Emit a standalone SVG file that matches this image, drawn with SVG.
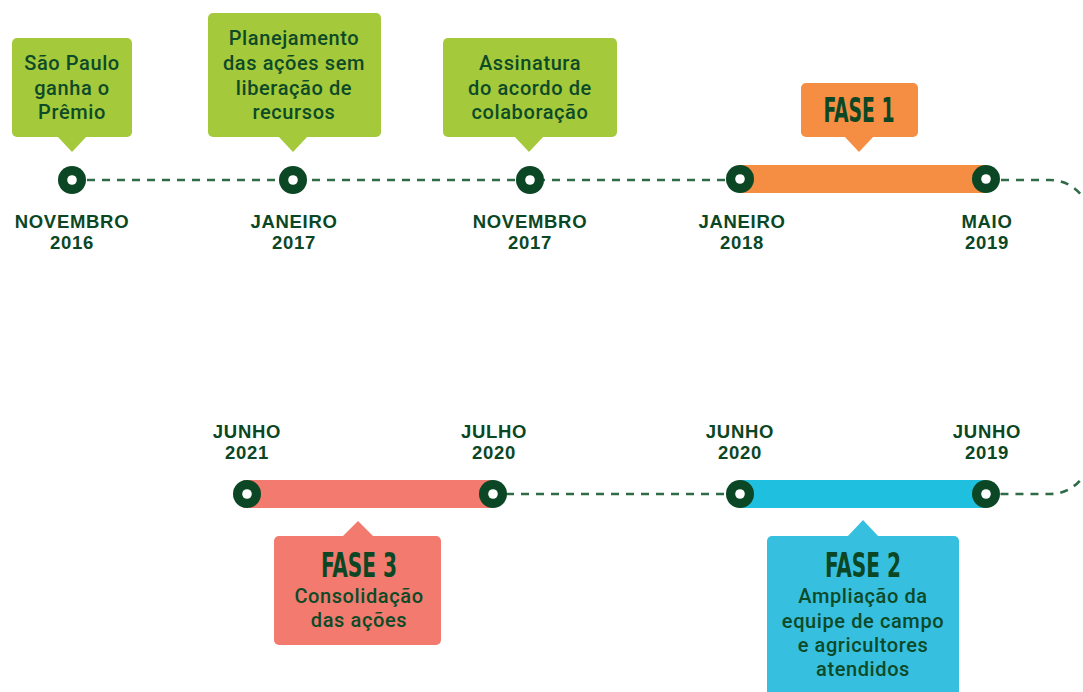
<svg xmlns="http://www.w3.org/2000/svg" width="1083" height="692" viewBox="0 0 1083 692">
<defs>
<style>
.dash{fill:none;stroke:#2f6b47;stroke-width:2.6;stroke-dasharray:8 7}
.ring{fill:#0b4724}
.hole{fill:#ffffff}
.date{font-family:"Liberation Sans",Arial,sans-serif;font-weight:700;font-size:18.5px;letter-spacing:0.7px;fill:#0b4724;text-anchor:middle}
.box{font-family:Roboto,"Open Sans",sans-serif;font-weight:500;font-size:20px;letter-spacing:0.6px;fill:#0d4a27;text-anchor:middle}
.fase{font-family:"Liberation Sans Narrow","DejaVu Sans Condensed","Liberation Sans",sans-serif;font-weight:700;font-size:33px;fill:#0b4724;text-anchor:middle}
.green{fill:#a4c93b}
</style>
</defs>
<rect width="1083" height="692" fill="#ffffff"/>
<g id="connectors">
<path class="dash" d="M72,180 H739"/>
<path class="dash" d="M986,180 H1050 A40,40 0 0 1 1090,220 V454 A40,40 0 0 1 1050,494 H986"/>
<path class="dash" d="M739,494 H493"/>
</g>
<g id="fase1">
<rect x="739" y="165" width="247" height="28" fill="#f58d43"/>
<rect x="801" y="83" width="117" height="54" rx="5" fill="#f58d43"/>
<path d="M844,136 L859,152 L874,136 Z" fill="#f58d43"/>
<text class="fase" x="859" y="122" textLength="71" lengthAdjust="spacingAndGlyphs">FASE 1</text>
</g>
<g id="fase2">
<rect x="739" y="480" width="247" height="28" fill="#1fc0df"/>
<rect x="767" y="536" width="192" height="170" rx="5" fill="#37bfe0"/>
<path d="M847,537 L863,520 L879,537 Z" fill="#37bfe0"/>
<text class="fase" x="863" y="577" textLength="76" lengthAdjust="spacingAndGlyphs">FASE 2</text>
<text class="box" x="863" y="603"><tspan x="863" y="603">Ampliação da</tspan><tspan x="863" y="628">equipe de campo</tspan><tspan x="863" y="652">e agricultores</tspan><tspan x="863" y="676">atendidos</tspan></text>
</g>
<g id="fase3">
<rect x="243" y="480" width="250" height="28" fill="#f27a6f"/>
<rect x="274" y="536" width="167" height="109" rx="5" fill="#f27a6f"/>
<path d="M342,537 L358,521 L374,537 Z" fill="#f27a6f"/>
<text class="fase" x="359" y="577" textLength="76" lengthAdjust="spacingAndGlyphs">FASE 3</text>
<text class="box" x="359" y="603"><tspan x="359" y="603">Consolidação</tspan><tspan x="359" y="627">das ações</tspan></text>
</g>
<g id="m-nov2016">
<rect class="green" x="12" y="38" width="120" height="99" rx="5"/>
<path class="green" d="M57,136 L72,152 L87,136 Z"/>
<text class="box" x="72" y="70"><tspan x="72" y="70">São Paulo</tspan><tspan x="72" y="95">ganha o</tspan><tspan x="72" y="119">Prêmio</tspan></text>
<circle class="ring" cx="72" cy="180" r="14"/><circle class="hole" cx="72" cy="180" r="4.8"/>
<text class="date" x="72" y="228"><tspan x="72" y="228">NOVEMBRO</tspan><tspan x="72" y="249">2016</tspan></text>
</g>
<g id="m-jan2017">
<rect class="green" x="208" y="13" width="173" height="124" rx="5"/>
<path class="green" d="M278,136 L293,152 L308,136 Z"/>
<text class="box" x="294" y="45"><tspan x="294" y="45">Planejamento</tspan><tspan x="294" y="70">das ações sem</tspan><tspan x="294" y="95">liberação de</tspan><tspan x="294" y="119">recursos</tspan></text>
<circle class="ring" cx="293" cy="180" r="14"/><circle class="hole" cx="293" cy="180" r="4.8"/>
<text class="date" x="294" y="228"><tspan x="294" y="228">JANEIRO</tspan><tspan x="294" y="249">2017</tspan></text>
</g>
<g id="m-nov2017">
<rect class="green" x="443" y="38" width="174" height="99" rx="5"/>
<path class="green" d="M514,136 L529,152 L544,136 Z"/>
<text class="box" x="530" y="70"><tspan x="530" y="70">Assinatura</tspan><tspan x="530" y="95">do acordo de</tspan><tspan x="530" y="119">colaboração</tspan></text>
<circle class="ring" cx="530" cy="180" r="14"/><circle class="hole" cx="530" cy="180" r="4.8"/>
<text class="date" x="530" y="228"><tspan x="530" y="228">NOVEMBRO</tspan><tspan x="530" y="249">2017</tspan></text>
</g>
<g id="m-jan2018">
<circle class="ring" cx="740" cy="179" r="14"/><circle class="hole" cx="740" cy="179" r="4.8"/>
<text class="date" x="742" y="228"><tspan x="742" y="228">JANEIRO</tspan><tspan x="742" y="249">2018</tspan></text>
</g>
<g id="m-mai2019">
<circle class="ring" cx="986" cy="179" r="14"/><circle class="hole" cx="986" cy="179" r="4.8"/>
<text class="date" x="987" y="228"><tspan x="987" y="228">MAIO</tspan><tspan x="987" y="249">2019</tspan></text>
</g>
<g id="m-jun2019">
<circle class="ring" cx="986" cy="494" r="14"/><circle class="hole" cx="986" cy="494" r="4.8"/>
<text class="date" x="987" y="438"><tspan x="987" y="438">JUNHO</tspan><tspan x="987" y="459">2019</tspan></text>
</g>
<g id="m-jun2020">
<circle class="ring" cx="740" cy="494" r="14"/><circle class="hole" cx="740" cy="494" r="4.8"/>
<text class="date" x="740" y="438"><tspan x="740" y="438">JUNHO</tspan><tspan x="740" y="459">2020</tspan></text>
</g>
<g id="m-jul2020">
<circle class="ring" cx="493" cy="494" r="14"/><circle class="hole" cx="493" cy="494" r="4.8"/>
<text class="date" x="494" y="438"><tspan x="494" y="438">JULHO</tspan><tspan x="494" y="459">2020</tspan></text>
</g>
<g id="m-jun2021">
<circle class="ring" cx="247" cy="494" r="14"/><circle class="hole" cx="247" cy="494" r="4.8"/>
<text class="date" x="247" y="438"><tspan x="247" y="438">JUNHO</tspan><tspan x="247" y="459">2021</tspan></text>
</g>
</svg>
